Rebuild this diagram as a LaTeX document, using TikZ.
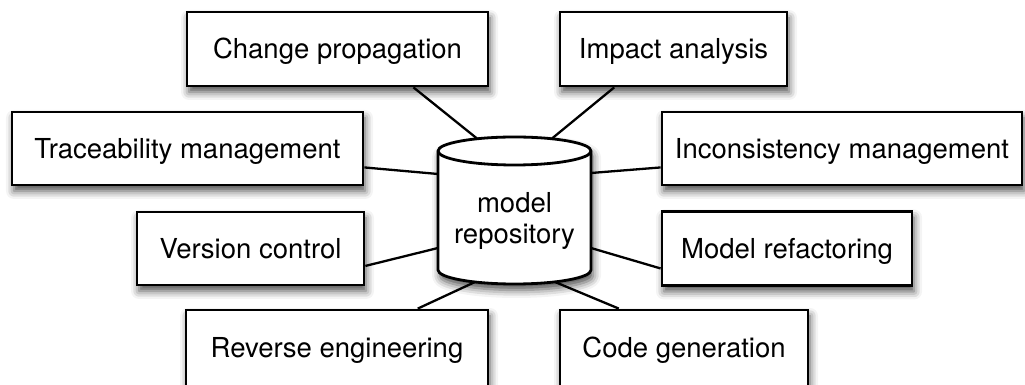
\documentclass[tikz,border=0pt]{standalone}
\usepackage{fontspec}
\setmainfont{TeX Gyre Heros}
\usetikzlibrary{shadows.blur,calc}
\begin{document}
\begin{tikzpicture}[x=1pt,y=1pt,
  shad/.style={blur shadow={shadow xshift=2pt, shadow yshift=-6pt, shadow blur radius=8pt, shadow opacity=70}},
  box/.style={draw=black, line width=2.8pt, fill=white, inner sep=0pt, rectangle,
    font=\fontsize{27.5}{33}\selectfont, text height=20pt, text depth=0pt, shad},
  link/.style={line width=2.3pt, draw=black}]
\useasboundingbox (0,0) rectangle (1025,385);
% top row
\node[box, minimum width=301pt, minimum height=74pt] (cp) at (337.5,336) {Change propagation};
\node[box, minimum width=227pt, minimum height=74pt] (ia) at (673.5,336) {Impact analysis};
% middle rows
\node[box, minimum width=351pt, minimum height=73pt] (tm) at (187.5,236.5) {Traceability management};
\node[box, minimum width=360pt, minimum height=73pt] (im) at (842,236.5) {Inconsistency management};
\node[box, minimum width=227pt, minimum height=73pt] (vc) at (250.5,136.5) {Version control};
\node[box, minimum width=250pt, minimum height=74pt] (mr) at (787,136.5) {Model refactoring};
% cylinder
\path[draw=black, line width=2.8pt, fill=white, shad]
  (438,234) -- (438,115) arc[start angle=180, end angle=360, x radius=76.5, y radius=14]
  -- (591,234) arc[start angle=0, end angle=180, x radius=76.5, y radius=14] -- cycle;
\draw[line width=2.8pt] (438,234) arc[start angle=180, end angle=360, x radius=76.5, y radius=14];
\node[font=\fontsize{27.5}{31}\selectfont, align=center, inner sep=0pt] (repo) at (514.5,164.5) {model\\repository};
% bottom row
\node[box, minimum width=302pt, minimum height=76pt] (re) at (337,37) {Reverse engineering};
\node[box, minimum width=248pt, minimum height=76pt] (cg) at (684,37) {Code generation};
% connector ends on the cylinder
\coordinate (cA) at (477,246.5);
\coordinate (cB) at (552,246.5);
\coordinate (cC) at (438,211);
\coordinate (cD) at (591,212);
\coordinate (cE) at (438,137);
\coordinate (cF) at (591,137);
\coordinate (cG) at (475,103);
\coordinate (cH) at (555,103);
% connectors
\draw[link] ($(cp.south west)!0.75!(cp.south east)$) -- (cA);
\draw[link] ($(ia.south west)!0.242!(ia.south east)$) -- (cB);
\draw[link] ($(tm.north east)!0.75!(tm.south east)$) -- (cC);
\draw[link] ($(im.north west)!0.75!(im.south west)$) -- (cD);
\draw[link] ($(vc.north east)!0.73!(vc.south east)$) -- (cE);
\draw[link] ($(mr.north west)!0.76!(mr.south west)$) -- (cF);
\draw[link] ($(re.north west)!0.765!(re.north east)$) -- (cG);
\draw[link] ($(cg.north west)!0.24!(cg.north east)$) -- (cH);
\end{tikzpicture}
\end{document}
